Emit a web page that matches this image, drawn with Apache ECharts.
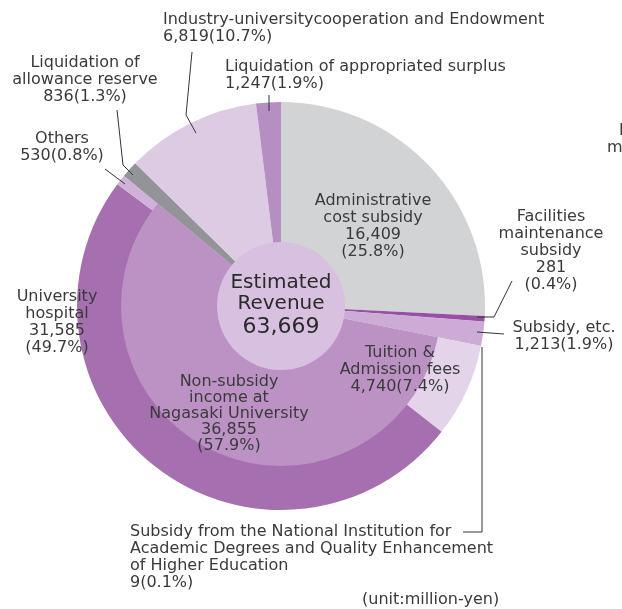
<!DOCTYPE html>
<html>
<head>
<meta charset="utf-8">
<script src="https://cdn.jsdelivr.net/npm/echarts@6/dist/echarts.min.js"></script>
<style>
  html, body { margin: 0; padding: 0; background: #fff; }
  #chart { width: 622px; height: 609px; }
</style>
</head>
<body>
<div id="chart"></div>
<script>
// slices, clockwise from 12 o'clock
var names = [
  'Administrative\ncost subsidy',
  'Facilities\nmaintenance\nsubsidy',
  'Subsidy from the National Institution for\nAcademic Degrees and Quality Enhancement\nof Higher Education',
  'Subsidy, etc.',
  'Tuition &\nAdmission fees',
  'University\nhospital',
  'Others',
  'Liquidation of\nallowance reserve',
  'Industry-universitycooperation and Endowment',
  'Liquidation of appropriated surplus'
]
var values = [16409, 281, 9, 1213, 4740, 31585, 530, 836, 6819, 1247]
var percents = ['25.8%', '0.4%', '0.1%', '1.9%', '7.4%', '49.7%', '0.8%', '1.3%', '10.7%', '1.9%']
var colors = ['#d2d3d5', '#9a4fa6', '#7e3c8e', '#ccabd6', '#e4d4ea', '#a66fb0', '#d0b1d9', '#929497', '#ddcbe4', '#b78ec2']

// inner group: tuition + hospital + others
var innerName = 'Non-subsidy\nincome at\nNagasaki University'
var innerValue = 36855
var innerPercent = '57.9%'
var centerName = 'Estimated\nRevenue'
var totalValue = 63669

function fmt(n) { return n.toLocaleString('en-US') }

// label placement (pixels) and leader lines
var layouts = [
  { x: 373, y: 226, align: 'center', split: true },
  { x: 551, y: 251, align: 'center', split: true, line: [[512, 281], [494, 317], [477, 317]] },
  { x: 130, y: 557, align: 'left', split: false, line: [[482, 347], [482, 532], [463, 532]] },
  { x: 564, y: 336, align: 'center', split: false, line: [[477, 332], [504, 334]] },
  { x: 400, y: 370, align: 'center', split: false },
  { x: 57, y: 322, align: 'center', split: true },
  { x: 62, y: 147, align: 'center', split: false, line: [[105, 169], [125, 184]] },
  { x: 85, y: 80, align: 'center', split: false, line: [[117, 110], [123, 165], [133, 175]] },
  { x: 163, y: 28, align: 'left', split: false, line: [[192, 52], [186, 115], [196, 133]] },
  { x: 225, y: 75, align: 'left', split: false, line: [[269, 95], [269, 111]] }
]

var font = 'DejaVu Sans'
var textStyle = { fontFamily: font, fontSize: 16, color: '#3a3a3a', lineHeight: 17, overflow: 'none' }
var C = [281, 306]

var sum = function (a) { return a.reduce(function (s, v) { return s + v }, 0) }
var innerData = [
  { value: sum(values.slice(0, 4)), itemStyle: { color: 'rgba(0,0,0,0)' }, label: { show: false } },
  { value: innerValue, name: innerName, itemStyle: { color: '#bc92c5' },
    label: { formatter: innerName + '\n' + fmt(innerValue) + '\n(' + innerPercent + ')' } },
  { value: sum(values.slice(7)), itemStyle: { color: 'rgba(0,0,0,0)' }, label: { show: false } }
]

var chart = echarts.init(document.getElementById('chart'))

var option = {
  animation: false,
  series: [
    { // outer slices
      type: 'pie',
      center: C,
      radius: [0, 204],
      startAngle: 90,
      z: 1,
      silent: true,
      label: { show: false },
      labelLine: { show: false },
      data: values.map(function (v, i) {
        return { name: names[i], value: v, itemStyle: { color: colors[i] } }
      })
    },
    { // non-subsidy group
      type: 'pie',
      center: C,
      radius: [0, 160],
      startAngle: 90,
      z: 2,
      silent: true,
      label: Object.assign({ show: true, position: 'inside', align: 'center', width: 300 }, textStyle, { lineHeight: 16 }),
      labelLine: { show: false },
      labelLayout: function () {
        return { x: 229, y: 414, align: 'center', verticalAlign: 'middle' }
      },
      data: innerData
    },
    { // centre disc
      type: 'pie',
      center: C,
      radius: [0, 64],
      z: 3,
      silent: true,
      label: {
        show: true,
        position: 'center',
        formatter: '{a|Estimated}\n{a|Revenue}\n{b|' + fmt(totalValue) + '}',
        rich: {
          a: { fontFamily: font, fontSize: 20, color: '#2a2a2a', lineHeight: 21 },
          b: { fontFamily: font, fontSize: 22, color: '#2a2a2a', lineHeight: 25 }
        }
      },
      labelLine: { show: false },
      data: [{ value: totalValue, name: centerName, itemStyle: { color: '#d8c0e0' } }]
    },
    { // labels of the outer slices, drawn on top
      type: 'pie',
      center: C,
      radius: [0, 204],
      startAngle: 90,
      z: 4,
      silent: true,
      itemStyle: { color: 'rgba(0,0,0,0)' },
      label: Object.assign({ show: true, position: 'outside', width: 440 }, textStyle),
      labelLine: { show: true, lineStyle: { color: '#333', width: 1 } },
      labelLayout: function (p) {
        var l = layouts[p.dataIndex]
        var r = { x: l.x, y: l.y, align: l.align, verticalAlign: 'middle' }
        if (l.line) r.labelLinePoints = l.line
        return r
      },
      data: values.map(function (v, i) {
        var l = layouts[i]
        return {
          name: names[i],
          value: v,
          label: {
            formatter: names[i] + '\n' + fmt(v) + (l.split ? '\n' : '') + '(' + percents[i] + ')',
            align: l.align
          },
          labelLine: { show: !!l.line }
        }
      })
    }
  ],
  graphic: [
    { type: 'text', left: 362, top: 592, style: { text: '(unit:million-yen)', font: '16px "DejaVu Sans"', fill: '#3a3a3a' } },
    { type: 'text', left: 619, top: 123, style: { text: 'Facilities', font: '16px "DejaVu Sans"', fill: '#3a3a3a' } },
    { type: 'text', left: 607, top: 140, style: { text: 'maintenance', font: '16px "DejaVu Sans"', fill: '#3a3a3a' } }
  ]
}
chart.setOption(option)
</script>
</body>
</html>
